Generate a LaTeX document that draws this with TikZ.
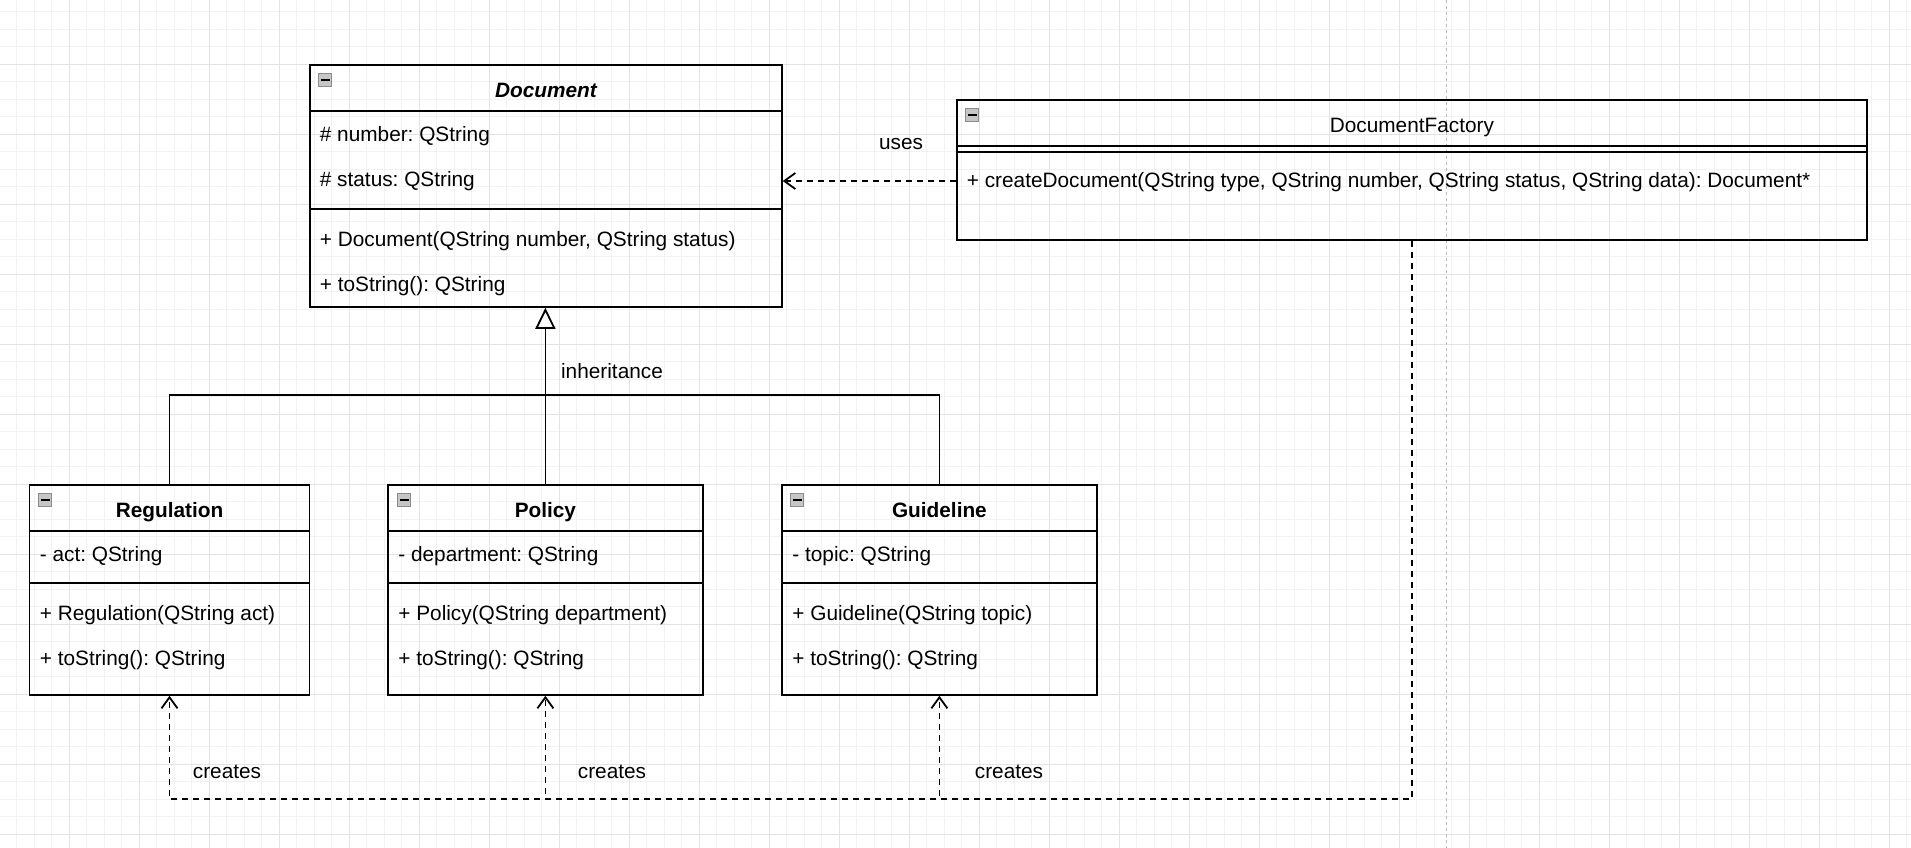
\documentclass[tikz,border=0pt]{standalone}
\usepackage{fontspec}
\setmainfont{Liberation Sans}
\frenchspacing
\usetikzlibrary{arrows.meta}

\begin{document}
\begin{tikzpicture}[x=1pt, y=-1pt, line width=1.8pt, font=\fontsize{20.8}{25}\selectfont]

      \useasboundingbox (0,0) rectangle (1911,848);

      \begin{scope}[line width=1pt]
        \foreach \i in {0,...,108}
          \draw[gray!10] (16.8+17.5*\i,0) -- (16.8+17.5*\i,848);
        \foreach \j in {0,...,47}
          \draw[gray!10] (0,11.8+17.5*\j) -- (1911,11.8+17.5*\j);
        \foreach \i in {0,...,26}
          \draw[gray!22] (69.3+70*\i,0) -- (69.3+70*\i,848);
        \foreach \j in {0,...,11}
          \draw[gray!22] (0,64.3+70*\j) -- (1911,64.3+70*\j);
        \draw[gray!55, dash pattern=on 3pt off 3pt] (1446.7,0) -- (1446.7,848);
      \end{scope}

      \begin{scope}[every node/.style={draw, anchor=north west, inner sep=0pt},
          clstitle/.style={text height=22pt, text depth=3pt}]
        \node[clstitle, minimum width=472pt, minimum height=46pt] (doc) at (309,64) {\bfseries\itshape Document};
        \node[minimum width=472pt, minimum height=98pt] (doc-attr) at (309,110)  {};
        \node[minimum width=472pt, minimum height=98pt] (doc-op)   at (309,208)  {};
        \node[clstitle, minimum width=910pt, minimum height=46pt] (fac) at (956,99) {DocumentFactory};
        \node[minimum width=910pt, minimum height=6pt]  (fac-attr) at (956,145)  {};
        \node[minimum width=910pt, minimum height=88pt] (fac-op)   at (956,151)  {};
        \node[clstitle, minimum width=280pt, minimum height=46pt] (reg) at (28.6,484) {\bfseries Regulation};
        \node[minimum width=280pt, minimum height=52pt] (reg-attr) at (28.6,530) {};
        \node[minimum width=280pt, minimum height=112pt] (reg-op)  at (28.6,582) {};
        \node[clstitle, minimum width=315pt, minimum height=46pt] (pol) at (387,484) {\bfseries Policy};
        \node[minimum width=315pt, minimum height=52pt] (pol-attr) at (387,530)  {};
        \node[minimum width=315pt, minimum height=112pt] (pol-op)  at (387,582)  {};
        \node[clstitle, minimum width=315pt, minimum height=46pt] (gui) at (781,484) {\bfseries Guideline};
        \node[minimum width=315pt, minimum height=52pt] (gui-attr) at (781,530)  {};
        \node[minimum width=315pt, minimum height=112pt] (gui-op)  at (781,582)  {};
      \end{scope}

      \begin{scope}[every node/.style={draw=gray!90, fill=gray!45, line width=0.8pt, minimum size=13pt, inner sep=0pt,
          path picture={\fill[black] ([xshift=-4.5pt, yshift=-1.3pt]path picture bounding box.center)
            rectangle ([xshift=4.5pt, yshift=1.3pt]path picture bounding box.center);}}]
        \node (doc-i) at (325,80)  {};
        \node (fac-i) at (972,115) {};
        \node (reg-i) at (45,500)  {};
        \node (pol-i) at (404,500) {};
        \node (gui-i) at (797,500) {};
      \end{scope}

      \begin{scope}[every node/.style={anchor=west, inner sep=0pt, text height=17pt, text depth=4pt}]
        \node (doc-a1) at (319,135)  {\# number: QString};
        \node (doc-a2) at (319,180)  {\# status: QString};
        \node (doc-m1) at (319,240)  {+ Document(QString number, QString status)};
        \node (doc-m2) at (319,285)  {+ toString(): QString};
        \node (fac-m1) at (966,181)  {+ createDocument(QString type, QString number, QString status, QString data): Document*};
        \node (reg-a1) at (39,555)   {- act: QString};
        \node (reg-m1) at (39,614)   {+ Regulation(QString act)};
        \node (reg-m2) at (39,659)   {+ toString(): QString};
        \node (pol-a1) at (397.5,555) {- department: QString};
        \node (pol-m1) at (397.5,614) {+ Policy(QString department)};
        \node (pol-m2) at (397.5,659) {+ toString(): QString};
        \node (gui-a1) at (791.5,555) {- topic: QString};
        \node (gui-m1) at (791.5,614) {+ Guideline(QString topic)};
        \node (gui-m2) at (791.5,659) {+ toString(): QString};
      \end{scope}

      \coordinate (jn)  at (545,395);
      \coordinate (bus) at (0,799);

      \draw (reg.north) |- (jn) -| (gui.north);
      \draw[-{Triangle[open, length=21pt, width=20pt]}] (pol.north) -- (pol.north |- doc-op.south);

      \begin{scope}[dash pattern=on 6pt off 5pt, -{Straight Barb[length=11pt, width=16pt]}]
        \draw (fac-op.west |- fac-m1.west) -- (doc-attr.east |- fac-m1.west);
        \draw (fac-op.south) -- (fac-op.south |- bus) -| (reg-op.south);
        \draw (fac-op.south) -- (fac-op.south |- bus) -| (pol-op.south);
        \draw (fac-op.south) -- (fac-op.south |- bus) -| (gui-op.south);
      \end{scope}

      \node (uses) at (901,144)  {uses};
      \node (inh)  at (612,371)  {inheritance};
      \node (cr1)  at (227,772)  {creates};
      \node (cr2)  at (612,772)  {creates};
      \node (cr3)  at (1009,772) {creates};

    \end{tikzpicture}
\end{document}
